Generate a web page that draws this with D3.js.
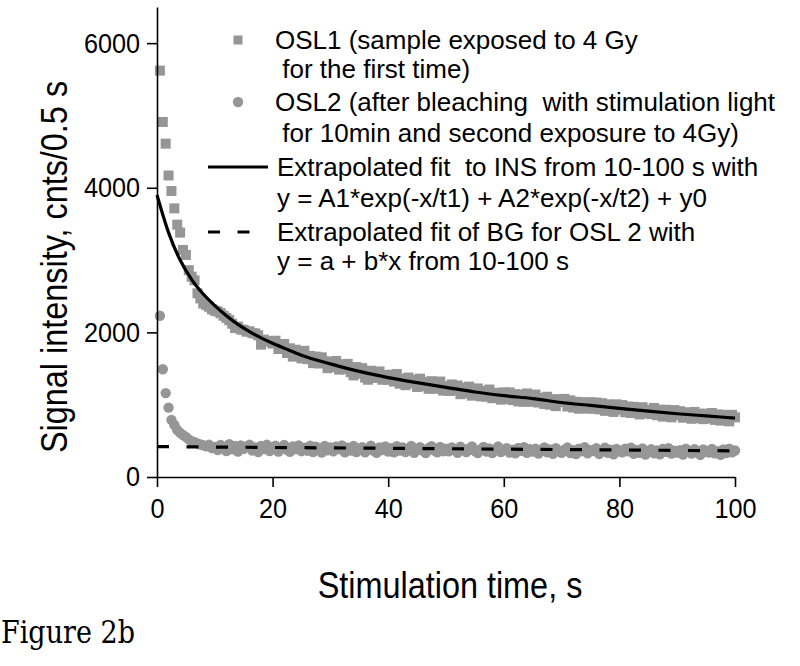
<!DOCTYPE html>
<html><head><meta charset="utf-8">
<script src="https://cdn.jsdelivr.net/npm/d3@7"></script>
<style>
body{margin:0;background:#fff}
svg{display:block}
text{fill:#000}
</style>
</head><body>
<svg id="chart" width="800" height="666"></svg>
<script>
// ---------- data ----------
const channelWidth = 0.5;            // s per channel (x = (i+1)*channelWidth)
const osl1Values = [
  5620, 4910, 4610, 4170, 3955, 3715, 3490, 3380, 3140, 3070,
  2860, 2770, 2720, 2540, 2470, 2400, 2380, 2355, 2320, 2300,
  2290, 2265, 2230, 2200, 2170, 2120, 2060, 2080, 2040, 2035,
  2010, 2015, 1990, 1985, 1960, 1830, 1900, 1880, 1870, 1845,
  1885, 1770, 1815, 1840, 1715, 1780, 1665, 1760, 1675, 1640,
  1745, 1630, 1675, 1575, 1665, 1570, 1655, 1600, 1505, 1595,
  1520, 1605, 1485, 1560, 1490, 1565, 1450, 1405, 1520, 1430,
  1505, 1375, 1345, 1470, 1425, 1370, 1460, 1345, 1410, 1345,
  1415, 1320, 1425, 1290, 1360, 1270, 1375, 1295, 1345, 1245,
  1360, 1255, 1315, 1220, 1325, 1220, 1280, 1320, 1195, 1255,
  1190, 1280, 1195, 1265, 1145, 1235, 1155, 1250, 1125, 1195,
  1225, 1115, 1190, 1110, 1210, 1090, 1165, 1115, 1070, 1170,
  1080, 1170, 1065, 1145, 1045, 1140, 1040, 1155, 1070, 1040,
  1140, 1030, 1095, 1010, 1110, 1000, 1075,  980, 1075, 1035,
  1080,  975, 1060,  960, 1040,  945, 1035, 1005,  945, 1035,
   945, 1030,  935, 1020,  915, 1005,  925,  900, 1005,  930,
   995,  895,  975,  885,  970,  885,  865,  965,  880,  930,
   870,  955,  855,  930,  835,  930,  860,  825,  925,  855,
   910,  820,  895,  830,  805,  900,  815,  875,  800,  875,
   810,  885,  790,  865,  780,  860,  805,  770,  860,  825
];
const osl2Values = [
  2230, 1490, 1160,  960,  790,  720,  650,  610,  580,  555,
   520,  495,  480,  465,  450,  440,  425,  445,  400,  415,
   373,  443,  393,  358,  453,  383,  428,  353,  438,  388,
   420,  445,  365,  410,  345,  430,  385,  445,  360,  405,
   432,  352,  402,  442,  377,  347,  422,  387,  437,  357,
   404,  364,  434,  344,  419,  384,  339,  429,  369,  409,
   356,  421,  386,  436,  341,  406,  366,  431,  346,  391,
   413,  343,  378,  433,  363,  333,  408,  373,  423,  353,
   400,  340,  425,  365,  410,  345,  390,  430,  335,  380,
   412,  362,  332,  402,  427,  367,  342,  417,  357,  392,
   354,  409,  374,  334,  419,  384,  344,  394,  424,  359,
   331,  386,  416,  351,  396,  331,  381,  421,  346,  376,
   398,  338,  378,  328,  403,  363,  413,  333,  383,  353,
   390,  325,  370,  410,  340,  380,  320,  400,  355,  335,
   377,  407,  332,  372,  317,  392,  357,  412,  327,  372,
   359,  399,  319,  364,  404,  334,  379,  314,  389,  354,
   341,  391,  356,  406,  321,  371,  336,  396,  311,  361,
   383,  328,  368,  313,  388,  348,  398,  323,  363,  338,
   370,  310,  390,  350,  325,  385,  340,  305,  380,  350,
   337,  387,  327,  357,  307,  382,  332,  392,  342,  367
];
// extrapolated bi-exponential fit
const fitTimes  = [0, 2, 4, 6, 8, 10, 12, 14, 16, 18, 20, 22.5, 25, 30, 35, 40, 45, 50, 55, 60, 65, 70, 75, 80, 85, 90, 95, 100];
const fitValues = [3900, 3380, 3000, 2730, 2530, 2370, 2230, 2110, 2010, 1925, 1850, 1765, 1685, 1565, 1460, 1375, 1305, 1240, 1175, 1125, 1085, 1030, 990, 950, 910, 875, 845, 815];
// linear background fit
const bgTimes  = [0, 100];
const bgValues = [420, 362];
const xTicks = [0, 20, 40, 60, 80, 100];
const yTicks = [0, 2000, 4000, 6000];
const legendEntries = [
  {type: "square", lines: ["OSL1 (sample exposed to 4 Gy", " for the first time)"]},
  {type: "circle", lines: ["OSL2 (after bleaching  with stimulation light", " for 10min and second exposure to 4Gy)"]},
  {type: "solid",  lines: ["Extrapolated fit  to INS from 10-100 s with", "y = A1*exp(-x/t1) + A2*exp(-x/t2) + y0"]},
  {type: "dashed", lines: ["Extrapolated fit of BG for OSL 2 with", "y = a + b*x from 10-100 s"]}
];
const xTitle = "Stimulation time, s";
const yTitle = "Signal intensity, cnts/0.5 s";
const caption = "Figure 2b";

// ---------- drawing ----------
const SANS = '"Liberation Sans", Arial, sans-serif';
const svg = d3.select("#chart");
const x = d3.scaleLinear().domain([0, 100]).range([157, 735]);
const y = d3.scaleLinear().domain([0, 6500]).range([477, 7]);
const grey = "#969696";

function condense(sel, f) {
  sel.each(function () {
    const w = this.getComputedTextLength();
    this.setAttribute("textLength", w * f);
    this.setAttribute("lengthAdjust", "spacingAndGlyphs");
  });
}

const osl1 = osl1Values.map((v, i) => ({t: (i + 1) * channelWidth, v}));
const osl2 = osl2Values.map((v, i) => ({t: (i + 1) * channelWidth, v}));
const sq = 10;

svg.append("g").selectAll("rect").data(osl1).join("rect")
  .attr("x", d => x(d.t) - sq / 2).attr("y", d => y(d.v) - sq / 2)
  .attr("width", sq).attr("height", sq).attr("fill", grey);

svg.append("g").selectAll("circle").data(osl2).join("circle")
  .attr("cx", d => x(d.t)).attr("cy", d => y(d.v)).attr("r", 5.2).attr("fill", grey);

const fitLine = d3.line().x(d => x(d[0])).y(d => y(d[1])).curve(d3.curveMonotoneX);
svg.append("path").datum(fitTimes.map((t, i) => [t, fitValues[i]]))
  .attr("d", fitLine).attr("fill", "none").attr("stroke", "#000").attr("stroke-width", 3.2);
svg.append("path").datum(bgTimes.map((t, i) => [t, bgValues[i]]))
  .attr("d", d3.line().x(d => x(d[0])).y(d => y(d[1])))
  .attr("fill", "none").attr("stroke", "#000").attr("stroke-width", 3.2)
  .attr("stroke-dasharray", "12,17.5");

// axes
const yAxis = svg.append("g").attr("transform", `translate(${x(0)},0)`)
  .call(d3.axisLeft(y).tickValues(yTicks).tickFormat(d3.format("d")).tickSize(10).tickSizeOuter(0).tickPadding(7));
const xAxis = svg.append("g").attr("transform", `translate(0,${y(0)})`)
  .call(d3.axisBottom(x).tickValues(xTicks).tickFormat(d3.format("d")).tickSize(10).tickSizeOuter(0).tickPadding(11));
[yAxis, xAxis].forEach(g => {
  g.selectAll("path,line").attr("stroke", "#000").attr("stroke-width", 1.6);
  g.selectAll("text").attr("font-size", 28).style("font-family", SANS).attr("fill", "#000");
  condense(g.selectAll("text"), 0.9);
});

const xt = svg.append("text").attr("x", 450).attr("y", 598).attr("text-anchor", "middle")
  .style("font-family", SANS).attr("font-size", 36).text(xTitle);
condense(xt, 0.9);
const yt = svg.append("text").attr("transform", "translate(67,267) rotate(-90)").attr("text-anchor", "middle")
  .style("font-family", SANS).attr("font-size", 36).text(yTitle);
condense(yt, 0.9);

// legend
const legendRows = [[40, 69], [102, 133], [167, 198], [232, 261]];
const lg = svg.append("g");
legendEntries.forEach((e, k) => {
  const [y1, y2] = legendRows[k];
  if (e.type === "square") lg.append("rect").attr("x", 238 - 4.5).attr("y", y1 - 4.5).attr("width", 9).attr("height", 9).attr("fill", grey);
  if (e.type === "circle") lg.append("circle").attr("cx", 238).attr("cy", y1).attr("r", 5.2).attr("fill", grey);
  if (e.type === "solid") lg.append("line").attr("x1", 208).attr("x2", 268).attr("y1", y1).attr("y2", y1).attr("stroke", "#000").attr("stroke-width", 3.2);
  if (e.type === "dashed") lg.append("line").attr("x1", 208).attr("x2", 251).attr("y1", y1).attr("y2", y1).attr("stroke", "#000").attr("stroke-width", 3.2).attr("stroke-dasharray", "12,17.5");
  const tx = k < 2 ? 275 : 277;
  e.lines.forEach((s, j) => {
    lg.append("text").attr("x", tx).attr("y", j === 0 ? y1 : y2).attr("dy", "0.36em")
      .style("font-family", SANS).attr("font-size", 26).style("white-space", "pre").text(s);
  });
});

const cap = svg.append("text").attr("x", 1).attr("y", 643)
  .style("font-family", '"DejaVu Serif", "Liberation Serif", serif').attr("font-size", 31).text(caption);
cap.attr("textLength", 134).attr("lengthAdjust", "spacingAndGlyphs");
</script>
</body></html>
